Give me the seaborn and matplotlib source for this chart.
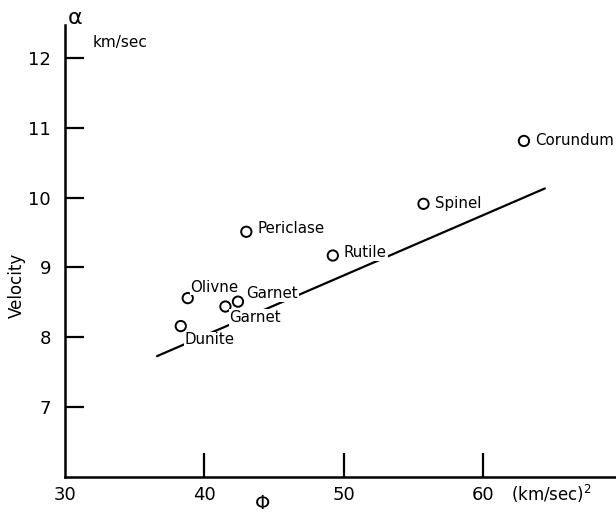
import matplotlib
matplotlib.use("Agg")
import matplotlib.pyplot as plt
import seaborn as sns
import pandas as pd

minerals = ["Corundum", "Spinel", "Periclase", "Rutile", "Olivne", "Garnet", "Garnet", "Dunite"]
phi = [62.9, 55.7, 43.0, 49.2, 38.8, 42.4, 41.5, 38.3]
velocity = [10.81, 9.91, 9.51, 9.17, 8.56, 8.51, 8.44, 8.16]
# label offsets in points (dx, dy)
label_dx = [8, 8, 8, 8, 2, 6, 3, 3]
label_dy = [0, 0, 2, 2, 8, 6, -8, -10]

fit_phi = [36.6, 64.4]
fit_velocity = [7.73, 10.13]

xticks = [40, 50, 60]
yticks = [7, 8, 9, 10, 11, 12]

sns.set_theme(style="ticks", rc={"text.color": "black", "xtick.color": "black",
                                 "ytick.color": "black", "axes.labelcolor": "black",
                                 "axes.edgecolor": "black"})
plt.rcParams["font.family"] = ["DejaVu Sans"]

fig = plt.figure(figsize=(6.16, 5.16), dpi=100)
ax = fig.add_axes([0.1055, 0.0756, 0.8945, 0.876])

df = pd.DataFrame({"phi": phi, "velocity": velocity, "mineral": minerals})
fit = pd.DataFrame({"phi": fit_phi, "velocity": fit_velocity})

sns.lineplot(data=fit, x="phi", y="velocity", color="black", lw=1.6, ax=ax, zorder=1)
sns.scatterplot(data=df, x="phi", y="velocity", ax=ax, s=55, marker="o",
                facecolor="none", edgecolor="black", linewidth=1.4, zorder=3)

for m, x, y, dx, dy in zip(minerals, phi, velocity, label_dx, label_dy):
    ax.annotate(m, (x, y), xytext=(dx, dy), textcoords="offset points",
                ha="left", va="center", fontsize=10.8, color="black", zorder=4,
                bbox=dict(boxstyle="square,pad=0.05", fc="white", ec="none"))

ax.set_xlim(30, 69.5)
ax.set_ylim(6.0, 12.47)
ax.set_xticks(xticks)
ax.set_yticks(yticks)
ax.set_xticklabels([])
ax.set_yticklabels([str(t) for t in yticks], fontsize=13)
ax.tick_params(axis="both", direction="in", width=1.6, color="black",
               bottom=True, left=True, top=False, right=False)
ax.tick_params(axis="y", length=14, pad=10)
ax.tick_params(axis="x", length=17)
for side in ["top", "right"]:
    ax.spines[side].set_visible(False)
for side in ["left", "bottom"]:
    ax.spines[side].set_color("black")
    ax.spines[side].set_linewidth(1.8)

# x tick labels placed below the axis
for t in [30] + xticks:
    ax.annotate(str(t), (t, 6.0), xytext=(0, -13), textcoords="offset points",
                ha="center", va="center", fontsize=13, annotation_clip=False)
ax.annotate("(km/sec)$^2$", (60, 6.0), xytext=(20, -12), textcoords="offset points",
            ha="left", va="center", fontsize=12, annotation_clip=False)

ax.set_xlabel("")
ax.set_ylabel("")
fig.text(0.027, 0.447, "Velocity", rotation=90, ha="center", va="center", fontsize=12)
fig.text(0.427, 0.025, "\u03a6", ha="center", va="center", fontsize=14)
fig.text(0.122, 0.965, "\u03b1", ha="center", va="center", fontsize=16)
fig.text(0.150, 0.918, "km/sec", ha="left", va="center", fontsize=11)

fig.savefig("out.png", dpi=100)
